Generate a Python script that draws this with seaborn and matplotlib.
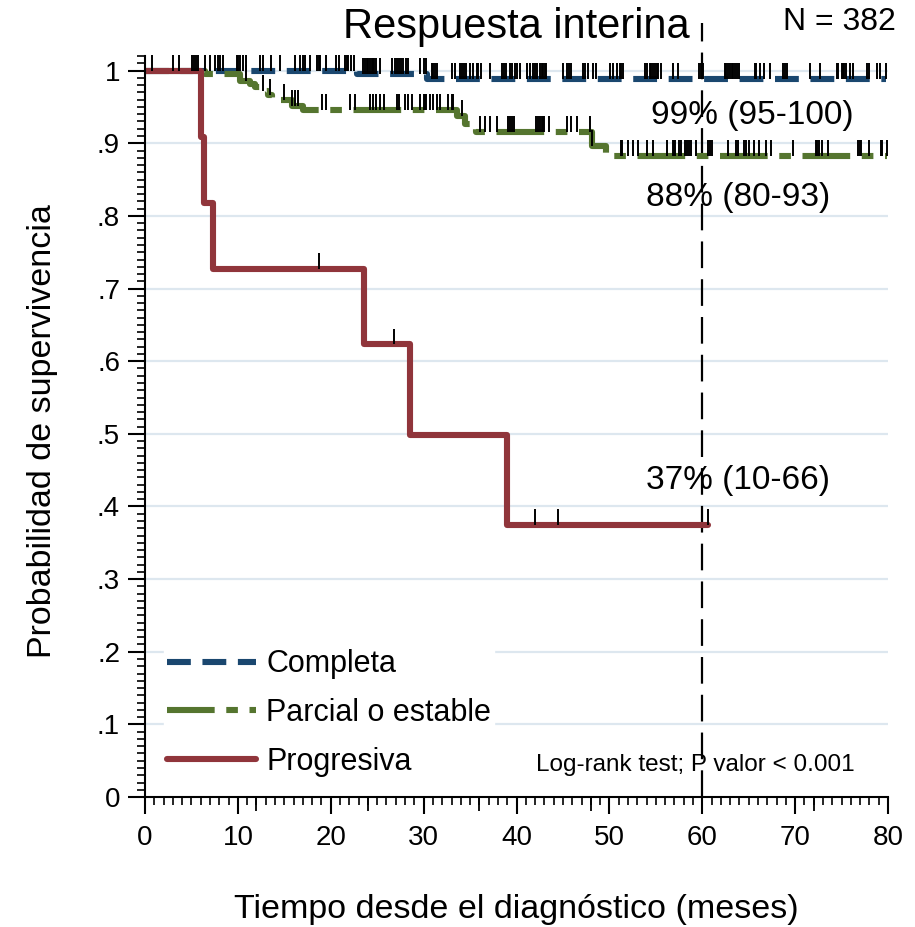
import numpy as np
import pandas as pd
import matplotlib
matplotlib.use("Agg")
import matplotlib.pyplot as plt
from matplotlib.ticker import FixedLocator
import seaborn as sns

# Datos
grupos = ["Completa", "Parcial o estable", "Progresiva"]

t_completa = [0, 22.8, 30.4, 79.8]
s_completa = [1.0, 0.9955, 0.988, 0.988]

t_parcial = [0, 6.5, 10.2, 11.3, 11.8, 12.7, 13.2, 13.7, 15.8, 17.0,
             33.6, 34.4, 35.6, 48.1, 49.6, 79.9]
s_parcial = [1.0, 0.9955, 0.986, 0.982, 0.977, 0.972, 0.966, 0.959, 0.952, 0.946,
             0.937, 0.926, 0.915, 0.896, 0.883, 0.883]

t_progresiva = [0, 6.0, 6.3, 7.3, 23.6, 28.5, 39.0, 60.6]
s_progresiva = [1.0, 0.909, 0.818, 0.727, 0.623, 0.498, 0.374, 0.374]

cens_completa = [0.7, 3.0, 3.7, 5.1, 5.3, 5.5, 5.7, 6.5, 7.0, 7.5, 7.9, 8.1, 8.4, 9.9,
                 10.0, 10.2, 10.6, 10.9, 12.4, 12.7, 13.6, 14.5, 16.1, 16.7, 17.0, 17.2,
                 17.8, 18.5, 18.7, 18.8, 19.5, 20.6, 20.9, 21.5, 21.7, 21.9, 22.2, 22.5,
                 23.5, 23.7, 23.9, 24.0, 24.2, 24.4, 24.6, 24.7, 24.9, 25.3, 26.6, 26.9,
                 27.1, 27.4, 27.6, 27.8, 28.1, 28.3, 29.6, 30.0, 30.3, 30.9, 31.0, 31.2,
                 31.4, 33.0, 33.4, 33.9, 34.1, 34.3, 34.6, 35.0, 35.3, 35.7, 35.9, 36.2,
                 37.1, 38.4, 38.6, 38.9, 39.3, 39.5, 39.8, 40.0, 40.4, 41.1, 41.4, 41.8,
                 42.0, 42.2, 42.5, 42.7, 42.9, 43.1, 43.2, 45.0, 45.4, 45.7, 45.9, 47.2,
                 47.4, 47.7, 48.2, 48.6, 50.1, 50.4, 50.8, 51.1, 51.3, 51.5, 53.8, 54.0,
                 54.4, 54.5, 54.7, 54.9, 55.1, 55.2, 55.6, 56.9, 57.4, 59.7, 59.9, 60.1,
                 62.4, 62.6, 62.8, 63.0, 63.2, 63.3, 63.5, 63.7, 64.0, 65.7, 65.8, 66.2,
                 66.6, 67.3, 68.7, 68.9, 69.1, 71.6, 72.7, 74.5, 74.6, 75.0, 75.2, 75.3,
                 75.5, 75.9, 76.2, 77.7, 78.0, 78.8, 79.1, 79.8]

cens_parcial = [10.9, 12.7, 13.5, 15.0, 15.8, 16.1, 16.5, 19.1, 19.5, 22.1, 22.6, 24.2,
                24.6, 24.9, 25.3, 25.7, 27.1, 27.4, 28.0, 28.3, 28.7, 29.6, 30.0, 30.1,
                30.3, 30.7, 31.0, 31.4, 31.8, 32.6, 33.0, 33.2, 34.1, 36.1, 36.6, 37.1,
                37.9, 39.1, 39.3, 39.5, 39.7, 42.1, 42.3, 42.5, 42.7, 42.8, 43.0, 43.5,
                45.4, 45.9, 46.5, 47.9, 48.1, 51.3, 51.4, 52.0, 52.5, 53.1, 54.0, 54.7,
                56.2, 56.8, 57.0, 57.1, 57.5, 57.7, 58.1, 58.4, 58.6, 58.8, 59.3, 60.6,
                60.8, 61.0, 62.8, 63.6, 63.9, 64.5, 64.7, 65.0, 65.6, 66.1, 66.9, 67.4,
                69.8, 72.2, 72.4, 72.6, 72.9, 73.5, 76.8, 77.0, 77.1, 77.9, 79.2, 79.4, 79.9]

cens_progresiva = [18.7, 26.8, 42.0, 44.5, 60.6]

etiquetas_60 = ["99% (95-100)", "88% (80-93)", "37% (10-66)"]
y_ticks = [0, .1, .2, .3, .4, .5, .6, .7, .8, .9, 1]
y_ticklabels = ["0", ".1", ".2", ".3", ".4", ".5", ".6", ".7", ".8", ".9", "1"]
x_ticks = [0, 10, 20, 30, 40, 50, 60, 70, 80]
meses_12 = [12, 24, 36, 48, 72]

colores = {"Completa": "#1a476f", "Parcial o estable": "#55752f", "Progresiva": "#90353b"}
guiones = {"Completa": (3.9, 1.9), "Parcial o estable": (7.8, 1.9, 1.9, 1.9), "Progresiva": ""}

# Tabla larga para seaborn
tiempos = [t_completa, t_parcial, t_progresiva]
survs = [s_completa, s_parcial, s_progresiva]
df = pd.concat([pd.DataFrame({"tiempo": t, "supervivencia": s, "grupo": g})
                for g, t, s in zip(grupos, tiempos, survs)], ignore_index=True)

sns.set_theme(style="ticks")
plt.rcParams["font.family"] = ["Liberation Sans", "DejaVu Sans"]
plt.rcParams["text.color"] = "black"
plt.rcParams["axes.labelcolor"] = "black"
plt.rcParams["xtick.color"] = "black"
plt.rcParams["ytick.color"] = "black"

fig = plt.figure(figsize=(9.15, 9.27), dpi=100)
ax = fig.add_axes([0.1585, 0.1402, 0.812, 0.8353])

# lineas de la rejilla
for yv in y_ticks[1:]:
    ax.axhline(yv, color="#dde7ef", lw=1.6, zorder=0)

sns.lineplot(data=df, x="tiempo", y="supervivencia", hue="grupo", style="grupo",
             palette=colores, dashes=guiones, drawstyle="steps-post",
             estimator=None, sort=False, linewidth=4.4, ax=ax, zorder=2)

# marcas de censura
for t, s, c in zip(tiempos, survs, [cens_completa, cens_parcial, cens_progresiva]):
    c = np.array(c)
    idx = np.searchsorted(t, c, side="right") - 1
    base = np.array(s)[idx]
    ax.vlines(c, base, base + 0.022, color="black", lw=1.4, zorder=3)

ax.axvline(60, color="black", lw=1.6, linestyle=(0, (12, 5)), zorder=1)

ax.text(54.5, 0.938, etiquetas_60[0], fontsize=24, va="center")
ax.text(53.9, 0.825, etiquetas_60[1], fontsize=24, va="center")
ax.text(53.9, 0.436, etiquetas_60[2], fontsize=24, va="center")
ax.text(42.1, 0.044, "Log-rank test; P valor < 0.001", fontsize=17.5, va="center")

ax.set_xlim(0, 80)
ax.set_ylim(0, 1.066)
ax.set_xticks(x_ticks)
ax.set_xticks(np.arange(0, 81, 1), minor=True)
ax.set_yticks(y_ticks, y_ticklabels)
ax.yaxis.set_minor_locator(FixedLocator(np.arange(0, 1.021, 0.01)))
ax.tick_params(axis="both", which="major", labelsize=20, length=12, width=1.5, color="black")
ax.tick_params(axis="both", which="minor", length=6, width=1.2, color="black")
ax.tick_params(axis="x", which="major", pad=8)
ax.tick_params(axis="y", which="major", pad=6)

sec = ax.secondary_xaxis("bottom")
sec.set_xticks(meses_12, labels=[""] * len(meses_12))
sec.tick_params(length=10, width=1.3, color="black")
sec.spines["bottom"].set_visible(False)

sns.despine(ax=ax)
ax.spines["left"].set_bounds(0, 1.02)
ax.spines["left"].set_linewidth(1.5)
ax.spines["bottom"].set_linewidth(1.5)
ax.spines["left"].set_color("black")
ax.spines["bottom"].set_color("black")

ax.set_xlabel("Tiempo desde el diagnóstico (meses)", fontsize=24.5)
ax.set_ylabel("Probabilidad de supervivencia", fontsize=24.5)
ax.xaxis.set_label_coords(0.5, -0.125)
ax.yaxis.set_label_coords(-0.117, 0.473)

sns.move_legend(ax, "lower left", bbox_to_anchor=(0.005, 0.0026), title=None,
                frameon=True, fontsize=22, handlelength=2.9, labelspacing=0.61,
                handletextpad=0.35, borderpad=0.1, fancybox=False,
                edgecolor="white", facecolor="white", framealpha=1)

fig.text(0.564, 0.971, "Respuesta interina", fontsize=30, ha="center", va="center")
fig.text(0.979, 0.976, "N = 382", fontsize=23, ha="right", va="center")

fig.savefig("out.png", dpi=100)
